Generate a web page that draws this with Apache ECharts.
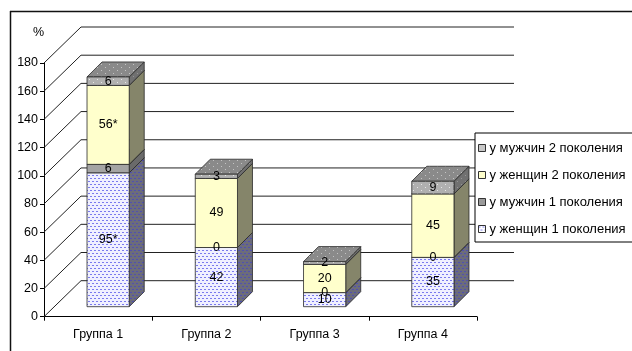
<!DOCTYPE html>
<html>
<head>
<meta charset="utf-8">
<script src="https://cdn.jsdelivr.net/npm/echarts@6/dist/echarts.min.js"></script>
<style>
  html, body { margin: 0; padding: 0; background: #fff; }
  #chart { width: 632px; height: 351px; }
</style>
</head>
<body>
<div id="chart"></div>
<script>
// ---- data ----
const categories = ['Группа 1', 'Группа 2', 'Группа 3', 'Группа 4'];
const seriesNames = ['у женщин 1 поколения', 'у мужчин 1 поколения', 'у женщин 2 поколения', 'у мужчин 2 поколения'];
const women1 = [95, 42, 10, 35];
const men1 = [6, 0, 0, 0];
const women2 = [56, 49, 20, 45];
const men2 = [6, 3, 2, 9];
// significance marks appended to value labels
const women1Marks = ['*', '', '', ''];
const men1Marks = ['', '', '', ''];
const women2Marks = ['*', '', '', ''];
const men2Marks = ['', '', '', ''];
const yTicks = [0, 20, 40, 60, 80, 100, 120, 140, 160, 180];
const legendOrder = [3, 2, 1, 0];

const stacks = [women1, men1, women2, men2];
const marks = [women1Marks, men1Marks, women2Marks, men2Marks];

// ---- 3D look ----
const WALL_DX = 37, WALL_DY = 36;   // depth of the back wall
const FRONT = 10;                   // box front face sits this far back
const BOX_DEPTH = 15;               // depth of each box
const BAR_RATIO = 0.39;             // box width relative to category band
const FONT = 'Arial, "Liberation Sans", sans-serif';

function dotPattern(bg, dot, w, h, dots) {
  const c = document.createElement('canvas');
  c.width = w; c.height = h;
  const g = c.getContext('2d');
  g.fillStyle = bg; g.fillRect(0, 0, w, h);
  g.fillStyle = dot;
  dots.forEach(d => g.fillRect(d[0], d[1], d[2], d[3]));
  return { image: c, repeat: 'repeat' };
}

const confetti = [[0, 1, 2, 1], [2, 4, 2, 1]];
const sparse = [[1, 1, 1, 1], [5, 4, 1, 1]];

const faces = [
  { // women, 1st generation
    front: dotPattern('#f0f0ff', '#7a7aee', 4, 6, confetti),
    side: dotPattern('#6c6c7a', '#5050b0', 4, 6, confetti),
    top: dotPattern('#d8d8f0', '#7070d0', 4, 6, confetti)
  },
  { // men, 1st generation
    front: '#a4a4a4', side: '#6a6a6a', top: '#8c8c8c'
  },
  { // women, 2nd generation
    front: '#ffffcc', side: '#85856a', top: '#e6e6b0'
  },
  { // men, 2nd generation
    front: dotPattern('#b0b0b0', '#e6e6e6', 8, 6, sparse),
    side: dotPattern('#707070', '#949494', 8, 6, sparse),
    top: dotPattern('#8a8a8a', '#c4c4c4', 8, 6, sparse)
  }
];

const legendColors = [
  dotPattern('#ffffff', '#7a7aee', 4, 6, confetti),
  '#9a9a9a',
  '#ffffcc',
  '#c8c8c8'
];

const EDGE = '#2a2a2a';

function boxRenderer(k) {
  return function (params, api) {
    const i = api.value(0);
    const v = api.value(1);
    let base = 0;
    for (let j = 0; j < k; j++) base += stacks[j][i];
    const p0 = api.coord([i, base]);
    const p1 = api.coord([i, base + v]);
    const band = api.size([1, 0])[0];
    const w = band * BAR_RATIO;
    const L = p0[0] - w / 2 + FRONT;
    const R = L + w;
    const yb = p0[1] - FRONT;
    const yt = p1[1] - FRONT;
    const f = faces[k];
    const children = [];
    if (v > 0) {
      children.push({
        type: 'polygon', z2: k * 3,
        shape: { points: [[R, yt], [R + BOX_DEPTH, yt - BOX_DEPTH], [R + BOX_DEPTH, yb - BOX_DEPTH], [R, yb]] },
        style: { fill: f.side, stroke: EDGE, lineWidth: 0.8 }
      });
      children.push({
        type: 'polygon', z2: k * 3 + 1,
        shape: { points: [[L, yt], [R, yt], [R + BOX_DEPTH, yt - BOX_DEPTH], [L + BOX_DEPTH, yt - BOX_DEPTH]] },
        style: { fill: f.top, stroke: EDGE, lineWidth: 0.8 }
      });
      children.push({
        type: 'rect', z2: k * 3 + 2,
        shape: { x: L, y: yt, width: w, height: yb - yt },
        style: { fill: f.front, stroke: EDGE, lineWidth: 0.8 }
      });
    }
    children.push({
      type: 'text', z2: 100,
      style: {
        text: String(stacks[k][i]) + marks[k][i],
        x: (L + R) / 2, y: (yt + yb) / 2,
        align: 'center', verticalAlign: 'middle',
        textAlign: 'center', textVerticalAlign: 'middle',
        fill: '#000', fontSize: 12.5, fontFamily: FONT
      }
    });
    return { type: 'group', children };
  };
}

const wallSeries = {
  type: 'custom',
  name: 'walls',
  z: 1,
  silent: true,
  data: yTicks.map(v => [0, v]),
  encode: { x: 0, y: 1 },
  renderItem: function (params, api) {
    const y = api.coord([0, api.value(1)])[1];
    const cs = params.coordSys;
    const left = cs.x, right = cs.x + cs.width;
    return {
      type: 'polyline',
      shape: { points: [[left, y], [left + WALL_DX, y - WALL_DY], [right + WALL_DX, y - WALL_DY]] },
      style: { stroke: '#222', lineWidth: 1, fill: null }
    };
  }
};

const boxSeries = stacks.map((arr, k) => ({
  type: 'custom',
  name: seriesNames[k],
  z: 2,
  itemStyle: { color: legendColors[k] },
  data: arr.map((v, i) => [i, v]),
  encode: { x: 0, y: 1 },
  renderItem: boxRenderer(k)
}));

const chart = echarts.init(document.getElementById('chart'), null, { renderer: 'canvas' });
chart.setOption({
  animation: false,
  backgroundColor: '#fff',
  grid: { left: 44, right: 155, top: 63, bottom: 34.3, containLabel: false },
  xAxis: {
    type: 'category',
    data: categories,
    boundaryGap: true,
    axisLine: { show: true, lineStyle: { color: '#000', width: 1 } },
    axisTick: { show: true, length: 4, lineStyle: { color: '#000' } },
    axisLabel: { color: '#000', fontSize: 12.5, fontFamily: FONT, margin: 11 },
    splitLine: { show: false }
  },
  yAxis: {
    type: 'value',
    min: 0, max: 180, interval: 20,
    name: '%',
    nameLocation: 'end',
    nameGap: 24,
    nameTextStyle: { color: '#000', fontSize: 12.5, fontFamily: FONT, align: 'right' },
    axisLine: { show: true, lineStyle: { color: '#000', width: 1 } },
    axisTick: { show: true, length: 4, lineStyle: { color: '#000' } },
    axisLabel: { color: '#000', fontSize: 12.5, fontFamily: FONT, margin: 6 },
    splitLine: { show: false }
  },
  legend: {
    orient: 'vertical',
    left: 475, top: 133,
    padding: [8, 30, 6, 3],
    itemGap: 13,
    itemWidth: 7, itemHeight: 7,
    icon: 'rect',
    backgroundColor: '#fff',
    borderColor: '#000', borderWidth: 1,
    selectedMode: false,
    textStyle: { color: '#000', fontSize: 13, fontFamily: FONT, lineHeight: 14, padding: [0, 0, 0, -1] },
    data: legendOrder.map(k => ({
      name: seriesNames[k],
      itemStyle: { color: legendColors[k], borderColor: '#333', borderWidth: 1 }
    }))
  },
  graphic: [
    { type: 'line', shape: { x1: 10, y1: 11.5, x2: 640, y2: 11.5 }, style: { stroke: '#111', lineWidth: 1.5 }, silent: true },
    { type: 'line', shape: { x1: 10.5, y1: 11, x2: 10.5, y2: 360 }, style: { stroke: '#111', lineWidth: 1.5 }, silent: true }
  ],
  series: [wallSeries].concat(boxSeries)
});
</script>
</body>
</html>
